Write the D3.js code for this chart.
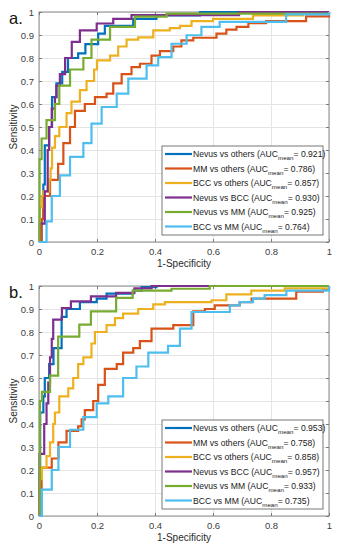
<!DOCTYPE html>
<html>
<head>
<meta charset="utf-8">
<script src="https://cdn.jsdelivr.net/npm/d3@7"></script>
<style>
  body { margin: 0; background: #fff; }
  text { font-family: "Liberation Sans", Arial, sans-serif; }
</style>
</head>
<body>
<div class="canvas"></div>
<script>
// legend names + AUC values per panel
const categories = ['Nevus vs others', 'MM vs others', 'BCC vs others', 'Nevus vs BCC', 'Nevus vs MM', 'BCC vs MM'];
const aucA = [0.921, 0.786, 0.857, 0.930, 0.925, 0.764];
const aucB = [0.953, 0.758, 0.858, 0.957, 0.933, 0.735];

// axis ticks
const xTicks = [0, 0.2, 0.4, 0.6, 0.8, 1];
const yTicks = [0, 0.1, 0.2, 0.3, 0.4, 0.5, 0.6, 0.7, 0.8, 0.9, 1];

// ROC operating points [1-specificity, sensitivity] - panel a
const nevusOthersA = [[0,0],[0.009,0.1],[0.015,0.25],[0.02,0.42],[0.035,0.5],[0.045,0.63],[0.06,0.69],[0.08,0.74],[0.1,0.8],[0.135,0.82],[0.16,0.86],[0.204,0.906],[0.227,0.94],[0.325,0.97],[0.405,0.985],[0.555,1],[1,1]];
const mmOthersA = [[0,0],[0.009,0.1],[0.015,0.2],[0.038,0.27],[0.066,0.34],[0.084,0.43],[0.107,0.5],[0.124,0.57],[0.158,0.6],[0.193,0.63],[0.233,0.645],[0.256,0.69],[0.285,0.73],[0.319,0.76],[0.348,0.775],[0.388,0.81],[0.417,0.83],[0.463,0.85],[0.491,0.877],[0.532,0.888],[0.612,0.906],[0.646,0.923],[0.681,0.935],[0.722,0.952],[0.783,0.96],[0.921,0.981],[1,1]];
const bccOthersA = [[0,0],[0.003,0.15],[0.01,0.2],[0.015,0.22],[0.035,0.27],[0.04,0.32],[0.045,0.41],[0.055,0.46],[0.07,0.5],[0.095,0.56],[0.112,0.61],[0.141,0.66],[0.164,0.7],[0.19,0.75],[0.2,0.79],[0.245,0.81],[0.273,0.85],[0.302,0.88],[0.342,0.89],[0.394,0.92],[0.451,0.93],[0.486,0.94],[0.526,0.96],[0.6,0.97],[0.738,0.985],[0.91,0.995],[1,1]];
const nevusBccA = [[0,0],[0.003,0.08],[0.02,0.22],[0.03,0.4],[0.035,0.5],[0.044,0.58],[0.055,0.63],[0.06,0.68],[0.072,0.73],[0.09,0.8],[0.113,0.87],[0.141,0.92],[0.199,0.95],[0.256,0.97],[0.319,0.986],[0.69,1],[1,1]];
const nevusMmA = [[0,0],[0.002,0.36],[0.009,0.45],[0.026,0.53],[0.055,0.6],[0.07,0.68],[0.107,0.75],[0.153,0.8],[0.181,0.88],[0.245,0.935],[0.331,0.98],[0.44,0.993],[1,1]];
const bccMmA = [[0,0],[0.026,0.09],[0.044,0.2],[0.072,0.29],[0.107,0.37],[0.153,0.43],[0.181,0.515],[0.216,0.587],[0.268,0.645],[0.308,0.71],[0.371,0.768],[0.411,0.804],[0.457,0.862],[0.509,0.899],[0.56,0.935],[0.623,0.957],[0.852,0.99],[1,1]];

// ROC operating points - panel b
const nevusOthersB = [[0,0],[0.004,0.45],[0.015,0.52],[0.02,0.6],[0.035,0.66],[0.05,0.73],[0.078,0.866],[0.095,0.9],[0.141,0.93],[0.199,0.945],[0.233,0.967],[0.325,0.98],[0.354,0.995],[0.405,1],[1,1]];
const mmOthersB = [[0,0],[0.009,0.21],[0.044,0.25],[0.067,0.32],[0.095,0.37],[0.135,0.39],[0.147,0.42],[0.158,0.46],[0.187,0.5],[0.204,0.57],[0.227,0.64],[0.268,0.66],[0.29,0.71],[0.325,0.73],[0.348,0.76],[0.388,0.815],[0.463,0.83],[0.532,0.89],[0.572,0.9],[0.606,0.916],[0.692,0.93],[0.733,0.945],[0.887,0.975],[0.979,0.985],[1,1]];
const bccOthersB = [[0,0],[0.002,0.16],[0.01,0.21],[0.026,0.26],[0.038,0.32],[0.049,0.4],[0.055,0.45],[0.07,0.52],[0.101,0.555],[0.118,0.6],[0.135,0.66],[0.153,0.69],[0.181,0.75],[0.193,0.8],[0.233,0.83],[0.262,0.86],[0.29,0.88],[0.342,0.9],[0.394,0.92],[0.434,0.93],[0.595,0.938],[0.646,0.964],[0.732,0.98],[0.847,0.99],[1,1]];
const nevusBccB = [[0,0],[0.002,0.27],[0.018,0.4],[0.026,0.49],[0.032,0.58],[0.038,0.69],[0.044,0.77],[0.049,0.854],[0.079,0.904],[0.11,0.933],[0.179,0.955],[0.266,0.97],[0.329,0.99],[0.388,1],[1,1]];
const nevusMmB = [[0,0],[0.003,0.5],[0.01,0.54],[0.038,0.61],[0.066,0.78],[0.139,0.832],[0.179,0.89],[0.266,0.948],[0.323,0.98],[0.457,0.988],[0.589,1],[1,1]];
const bccMmB = [[0,0],[0.01,0.115],[0.044,0.2],[0.067,0.3],[0.107,0.375],[0.153,0.43],[0.199,0.49],[0.239,0.52],[0.29,0.6],[0.336,0.65],[0.377,0.71],[0.445,0.74],[0.486,0.815],[0.526,0.887],[0.658,0.916],[0.692,0.93],[0.738,0.945],[0.778,0.96],[0.853,0.98],[1,1]];

// matlab default line colours
const colors = ['#0072BD', '#D95319', '#EDB120', '#7E2F8E', '#77AC30', '#4DBEEE'];

// select svg container
const svg = d3.select('.canvas')
    .append('svg')
    .attr('width', 343)
    .attr('height', 550);

const margin = { left: 39, right: 14 };
const graphWidth = 343 - margin.left - margin.right;
const graphHeight = 230;

const panels = [
    { top: 12, label: 'a.', curves: [nevusOthersA, mmOthersA, bccOthersA, nevusBccA, nevusMmA, bccMmA], auc: aucA },
    { top: 286, label: 'b.', curves: [nevusOthersB, mmOthersB, bccOthersB, nevusBccB, nevusMmB, bccMmB], auc: aucB }
];

const x = d3.scaleLinear().domain([0, 1]).range([0, graphWidth]);
const y = d3.scaleLinear().domain([0, 1]).range([graphHeight, 0]);
const fmt = d3.format('~g');

const line = d3.line()
    .x(d => x(d[0]))
    .y(d => y(d[1]))
    .curve(d3.curveStepAfter);

const styleAxis = g => {
    g.select('.domain').remove();
    g.selectAll('line').attr('stroke', '#7a7a7a');
    g.selectAll('text').attr('fill', '#3c3c3c').attr('font-size', 9.5);
};

const drawPanel = (p) => {
    const graph = svg.append('g')
        .attr('transform', `translate(${margin.left}, ${p.top})`);

    // grid
    graph.append('g')
        .attr('transform', `translate(0,${graphHeight})`)
        .call(d3.axisBottom(x).tickValues(xTicks).tickSize(-graphHeight).tickFormat(''))
        .call(g => g.select('.domain').remove())
        .selectAll('line').attr('stroke', '#e4e4e4');
    graph.append('g')
        .call(d3.axisLeft(y).tickValues(yTicks).tickSize(-graphWidth).tickFormat(''))
        .call(g => g.select('.domain').remove())
        .selectAll('line').attr('stroke', '#e4e4e4');

    // box
    graph.append('rect')
        .attr('width', graphWidth)
        .attr('height', graphHeight)
        .attr('fill', 'none')
        .attr('stroke', '#8a8a8a')
        .attr('stroke-width', 1);

    // axes (ticks inward, on all four sides)
    graph.append('g')
        .attr('transform', `translate(0,${graphHeight})`)
        .call(d3.axisBottom(x).tickValues(xTicks).tickSizeInner(-3).tickSizeOuter(0).tickPadding(6).tickFormat(fmt))
        .call(styleAxis);
    graph.append('g')
        .call(d3.axisLeft(y).tickValues(yTicks).tickSizeInner(-3).tickSizeOuter(0).tickPadding(5).tickFormat(fmt))
        .call(styleAxis);
    graph.append('g')
        .call(d3.axisTop(x).tickValues(xTicks).tickSizeInner(-3).tickSizeOuter(0).tickFormat(''))
        .call(styleAxis);
    graph.append('g')
        .attr('transform', `translate(${graphWidth},0)`)
        .call(d3.axisRight(y).tickValues(yTicks).tickSizeInner(-3).tickSizeOuter(0).tickFormat(''))
        .call(styleAxis);

    // roc curves
    graph.selectAll('path.roc')
        .data(p.curves)
        .enter()
        .append('path')
        .attr('class', 'roc')
        .attr('d', line)
        .attr('fill', 'none')
        .attr('stroke', (d, i) => colors[i])
        .attr('stroke-width', 2.2);

    // axis labels
    graph.append('text')
        .attr('x', graphWidth / 2)
        .attr('y', graphHeight + 25)
        .attr('text-anchor', 'middle')
        .attr('font-size', 10)
        .attr('fill', '#2a2a2a')
        .text('1-Specificity');
    graph.append('text')
        .attr('transform', `translate(${17 - margin.left}, ${graphHeight / 2}) rotate(-90)`)
        .attr('text-anchor', 'middle')
        .attr('font-size', 10)
        .attr('fill', '#2a2a2a')
        .text('Sensitivity');

    // panel letter
    svg.append('text')
        .attr('x', 9)
        .attr('y', p.top + 12)
        .attr('font-size', 16.5)
        .attr('fill', '#111')
        .text(p.label);

    // legend
    const legend = graph.append('g')
        .attr('transform', `translate(${162 - margin.left}, ${graphHeight - 96})`);
    legend.append('rect')
        .attr('width', 161)
        .attr('height', 89)
        .attr('fill', '#fff')
        .attr('stroke', '#555')
        .attr('stroke-width', 0.8);

    const rows = legend.selectAll('g.row')
        .data(categories)
        .enter()
        .append('g')
        .attr('class', 'row')
        .attr('transform', (d, i) => `translate(0, ${8 + i * 14.5})`);
    rows.append('line')
        .attr('x1', 3).attr('x2', 30)
        .attr('stroke', (d, i) => colors[i])
        .attr('stroke-width', 2.2);
    const txt = rows.append('text')
        .attr('x', 31)
        .attr('y', 3)
        .attr('font-size', 8.6)
        .attr('fill', '#1a1a1a');
    txt.append('tspan').text(d => d + ' (AUC');
    txt.append('tspan').attr('font-size', 6.2).attr('dy', 3).text('mean');
    txt.append('tspan').attr('dy', -3).text((d, i) => '= ' + p.auc[i].toFixed(3) + ')');
};

panels.forEach(p => drawPanel(p));
</script>
</body>
</html>
